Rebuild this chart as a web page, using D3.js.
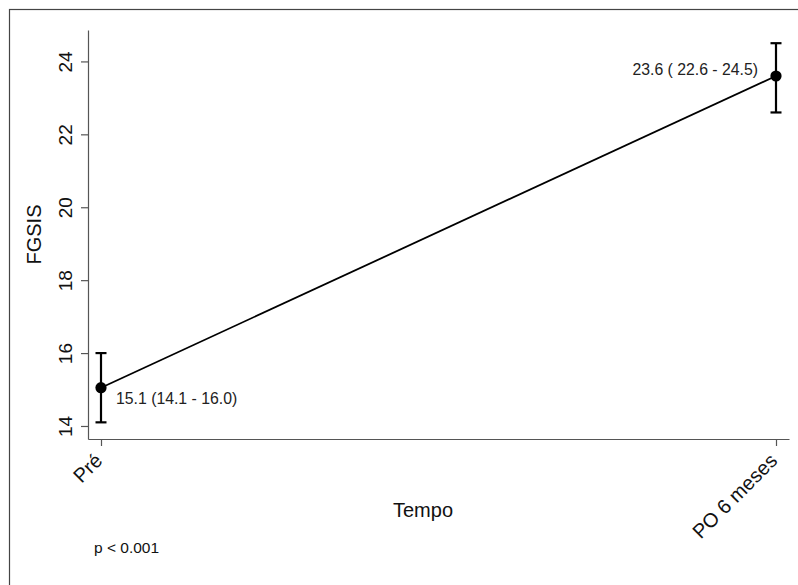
<!DOCTYPE html>
<html>
<head>
<meta charset="utf-8">
<script src="https://cdn.jsdelivr.net/npm/d3@7"></script>
<style>
  html, body { margin: 0; padding: 0; background: #fff; }
  svg { display: block; font-family: "Liberation Sans", Arial, sans-serif; }
</style>
</head>
<body>
<script>
// data
const tempos = ["Pré", "PO 6 meses"];
const medias = [15.05, 23.6];
const limInf = [14.1, 22.6];
const limSup = [16.0, 24.5];
const rotulos = ["15.1 (14.1 - 16.0)", "23.6 ( 22.6 - 24.5)"];
const yTicks = [14, 16, 18, 20, 22, 24];
const pTexto = "p < 0.001";

const W = 798, H = 585;
const axL = 88, axR = 789, axT = 30, axB = 439;

const svg = d3.select("body").append("svg")
  .attr("width", W).attr("height", H);

// outer frame (runs off the right and bottom edge)
svg.append("rect")
  .attr("x", 9.5).attr("y", 9.5)
  .attr("width", 820).attr("height", 620)
  .attr("fill", "none").attr("stroke", "#444").attr("stroke-width", 1.2);

const y = d3.scaleLinear().domain([13.643, 24.862]).range([axB, axT]);
const x = d3.scalePoint().domain(tempos).range([axL, axR]).padding(13 / 675);

// y axis
const gy = svg.append("g")
  .attr("transform", "translate(" + axL + ",0)")
  .call(d3.axisLeft(y).tickValues(yTicks).tickSize(7).tickSizeOuter(0));
gy.select(".domain").attr("stroke", "#555").attr("stroke-width", 1.2);
gy.selectAll(".tick line").attr("stroke", "#555").attr("stroke-width", 1.2);
gy.selectAll(".tick text")
  .attr("font-size", 19).attr("fill", "#111")
  .attr("transform", "rotate(-90)")
  .attr("x", 0).attr("y", -16).attr("dy", 0)
  .attr("text-anchor", "middle");

// x axis
const gx = svg.append("g")
  .attr("transform", "translate(0," + axB + ")")
  .call(d3.axisBottom(x).tickSize(7).tickSizeOuter(0));
gx.select(".domain").attr("stroke", "#555").attr("stroke-width", 1.2);
gx.selectAll(".tick line").attr("stroke", "#555").attr("stroke-width", 1.2);
gx.selectAll(".tick text")
  .attr("font-size", 20).attr("fill", "#111")
  .attr("x", 0).attr("y", 0).attr("dy", 0)
  .attr("text-anchor", "end")
  .attr("transform", "translate(2,23) rotate(-45)");

// axis titles
svg.append("text")
  .attr("transform", "translate(" + 41 + "," + ((axT + axB) / 2) + ") rotate(-90)")
  .attr("text-anchor", "middle")
  .attr("font-size", 20).attr("fill", "#111")
  .text("FGSIS");

svg.append("text")
  .attr("x", 423).attr("y", 517)
  .attr("text-anchor", "middle")
  .attr("font-size", 20).attr("fill", "#111")
  .text("Tempo");

svg.append("text")
  .attr("x", 94).attr("y", 553)
  .attr("font-size", 15.5).attr("fill", "#111")
  .text(pTexto);

const pts = tempos.map((t, i) => ({ t: t, m: medias[i], lo: limInf[i], hi: limSup[i], lab: rotulos[i], i: i }));

// connecting line
svg.append("path")
  .datum(pts)
  .attr("fill", "none").attr("stroke", "#000").attr("stroke-width", 1.8)
  .attr("d", d3.line().x(d => x(d.t)).y(d => y(d.m)));

// error bars
const eb = svg.append("g").selectAll("g").data(pts).join("g");
eb.append("line")
  .attr("x1", d => x(d.t)).attr("x2", d => x(d.t))
  .attr("y1", d => y(d.lo)).attr("y2", d => y(d.hi))
  .attr("stroke", "#000").attr("stroke-width", 2.2);
eb.append("line")
  .attr("x1", d => x(d.t) - 5.5).attr("x2", d => x(d.t) + 5.5)
  .attr("y1", d => y(d.lo)).attr("y2", d => y(d.lo))
  .attr("stroke", "#000").attr("stroke-width", 2.2);
eb.append("line")
  .attr("x1", d => x(d.t) - 5.5).attr("x2", d => x(d.t) + 5.5)
  .attr("y1", d => y(d.hi)).attr("y2", d => y(d.hi))
  .attr("stroke", "#000").attr("stroke-width", 2.2);

// markers
svg.append("g").selectAll("circle").data(pts).join("circle")
  .attr("cx", d => x(d.t)).attr("cy", d => y(d.m))
  .attr("r", 5.6).attr("fill", "#000");

// point labels
svg.append("g").selectAll("text").data(pts).join("text")
  .attr("x", d => d.i === 0 ? x(d.t) + 15 : x(d.t) - 18)
  .attr("y", d => d.i === 0 ? y(d.m) + 16 : y(d.m) - 1)
  .attr("text-anchor", d => d.i === 0 ? "start" : "end")
  .attr("font-size", 15.8).attr("fill", "#222")
  .text(d => d.lab);
</script>
</body>
</html>
